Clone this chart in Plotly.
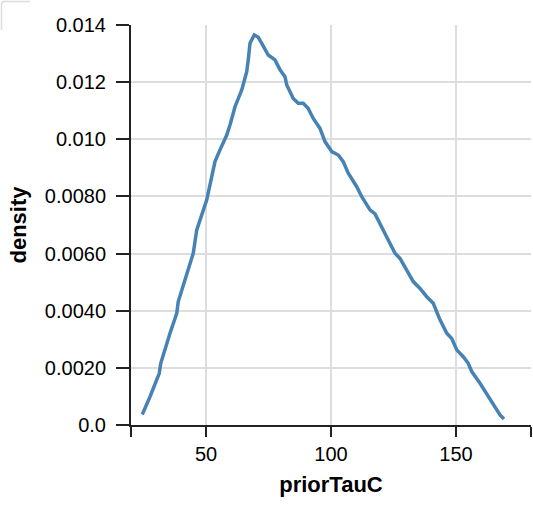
import plotly.graph_objects as go

# Data
prior_tau_c = [24.5, 27.6, 31.3, 31.9, 35.6, 38.3, 38.9, 43.6, 44.9, 46.3,
               50.3, 52.3, 53.6, 55.6, 58.3, 59.6, 61.6, 64.3, 66.3, 66.9,
               67.6, 69.3, 70.9, 72.3, 74.9, 77.6, 79.6, 81.6, 82.3, 84.9,
               86.9, 88.9, 90.9, 92.9, 95.6, 97.6, 100.3, 102.9, 104.9, 106.9,
               108.9, 110.3, 112.3, 115.6, 117.6, 119.6, 121.6, 123.6, 125.6, 127.6,
               130.3, 132.9, 135.6, 138.3, 140.9, 143.6, 146.3, 148.3, 150.3, 152.9,
               154.9, 156.3, 159.6, 163.6, 167.6, 169.2]
density = [0.00037, 0.00099, 0.00181, 0.00216, 0.00321, 0.00391, 0.00432, 0.00566, 0.00601, 0.00683,
           0.00788, 0.00869, 0.00922, 0.00963, 0.01015, 0.0105, 0.01114, 0.01173, 0.01237, 0.01278,
           0.01336, 0.01365, 0.01357, 0.01336, 0.01295, 0.01278, 0.01243, 0.01219, 0.0119, 0.01143,
           0.01126, 0.01126, 0.01108, 0.01073, 0.01038, 0.00992, 0.00957, 0.00945, 0.00922, 0.00881,
           0.00852, 0.00834, 0.00799, 0.00753, 0.00739, 0.00706, 0.00671, 0.00636, 0.00601, 0.00583,
           0.00543, 0.00502, 0.00478, 0.00449, 0.00426, 0.00368, 0.00321, 0.00303, 0.00263, 0.00239,
           0.00216, 0.00187, 0.00146, 0.00088, 0.00035, 0.00021]

x_tick_vals = [50, 100, 150]
x_tick_text = ["50", "100", "150"]
x_range = [20, 180]
y_tick_vals = [0, 0.002, 0.004, 0.006, 0.008, 0.010, 0.012, 0.014]
y_tick_text = ["0.0", "0.0020", "0.0040", "0.0060", "0.0080", "0.010", "0.012", "0.014"]
y_range = [0, 0.014]

FONT = "Liberation Sans, Arial, Helvetica, sans-serif"
AXIS_COLOR = "#222"
GRID_COLOR = "#dddddd"

fig = go.Figure()
fig.add_trace(go.Scatter(
    x=prior_tau_c, y=density, mode="lines",
    line=dict(color="#4682b4", width=3.5),
    hoverinfo="skip", showlegend=False,
))

fig.update_layout(
    width=533, height=507,
    margin=dict(l=131, r=2, t=25, b=82),
    paper_bgcolor="white", plot_bgcolor="white",
    font=dict(family=FONT, size=20, color="#000"),
    showlegend=False,
    shapes=[dict(
        type="path", xref="paper", yref="paper",
        path="M -0.32375 0.9875 L -0.32375 1.052 Q -0.32375 1.05875 -0.317 1.05875 L -0.2525 1.05875",
        line=dict(color="#dcdcdc", width=1.5),
    )],
)

fig.update_xaxes(
    range=x_range, tickmode="array", tickvals=x_tick_vals, ticktext=x_tick_text,
    showgrid=True, gridcolor=GRID_COLOR, gridwidth=2,
    zeroline=False, showline=True, linecolor=AXIS_COLOR, linewidth=2,
    ticks="outside", ticklen=10, tickwidth=2, tickcolor=AXIS_COLOR,
    tickfont=dict(family=FONT, size=20, color="#000"),
    minor=dict(tickmode="array", tickvals=x_range, ticks="outside", ticklen=10,
               tickwidth=2, tickcolor=AXIS_COLOR, showgrid=False),
    title=dict(text="<b>priorTauC</b>", font=dict(family=FONT, size=22, color="#000"), standoff=13),
    automargin=False,
)
fig.update_yaxes(
    range=y_range, tickmode="array", tickvals=y_tick_vals, ticktext=y_tick_text,
    showgrid=True, gridcolor=GRID_COLOR, gridwidth=2,
    zeroline=False, showline=True, linecolor=AXIS_COLOR, linewidth=2,
    ticks="outside", ticklen=13, tickwidth=2, tickcolor=AXIS_COLOR,
    ticklabelstandoff=6,
    tickfont=dict(family=FONT, size=20, color="#000"),
    title=dict(text="<b>density</b>", font=dict(family=FONT, size=22, color="#000"), standoff=12),
    automargin=False,
)

fig.write_html(
    "out.html",
    config={"displayModeBar": False, "staticPlot": True},
    post_script="document.body.style.margin='0';document.body.style.padding='0';",
)
